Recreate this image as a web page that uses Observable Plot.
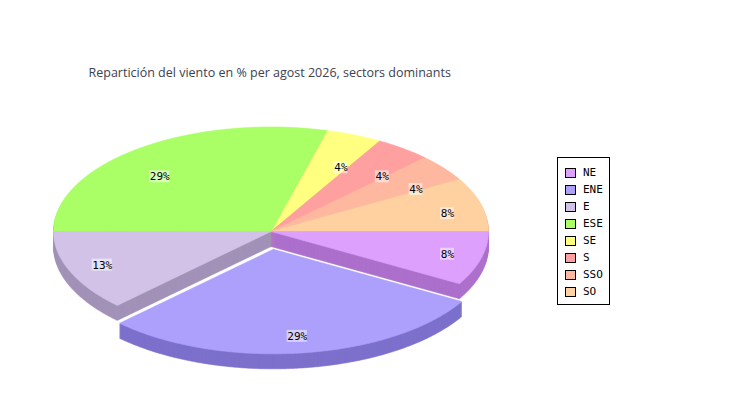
<!DOCTYPE html>
<html><head><meta charset="utf-8">
<script src="https://cdn.jsdelivr.net/npm/d3@7"></script>
<script src="https://cdn.jsdelivr.net/npm/@observablehq/plot@0.6"></script>
<style>
body{margin:0;background:#fff;}
#wrap{position:relative;width:750px;height:400px;overflow:hidden;background:#fff;}
#legend{position:absolute;left:557px;top:157px;width:53px;height:148px;border:1px solid #000;background:#fff;box-sizing:border-box;}
.sw{position:absolute;left:7px;width:11px;height:10px;border:1px solid #000;box-sizing:border-box;}
.lb{position:absolute;left:25px;font:11px "DejaVu Sans Mono",monospace;color:#000;line-height:10px;white-space:nowrap;}
</style></head>
<body><div id="wrap"><div id="chart"></div><div id="legend"></div></div>
<script>
// ---- data ----
const sectors = ["NE", "ENE", "E", "ESE", "SE", "S", "SSO", "SO"];
const percents = [8.33, 29.17, 12.5, 29.17, 4.17, 4.17, 4.17, 8.33];
const colors = ["#dda0fc", "#aca0fc", "#d2c2e8", "#aaff66", "#ffff80", "#ffa0a0", "#ffb8a0", "#ffd0a0"];
const explodedSectors = ["ENE"];
const titleText = "Repartición del viento en % per agost 2026, sectors dominants";

// ---- geometry (layout) ----
const cx = 270.5, cy = 231, rx = 217.5, ry = 104.5, depth = 15, explodePx = 18;

const total = d3.sum(percents);
let acc = 0;
const slices = sectors.map((name, i) => {
  const a0 = acc / total * 2 * Math.PI;
  acc += percents[i];
  const a1 = acc / total * 2 * Math.PI;
  const mid = (a0 + a1) / 2;
  const ex = explodedSectors.includes(name) ? explodePx : 0;
  const side = d3.rgb(colors[i]);
  const sideColor = d3.rgb(Math.max(0, side.r - 48), Math.max(0, side.g - 48), Math.max(0, side.b - 48)).formatHex();
  return {name, value: percents[i], a0, a1, mid, ox: ex * Math.cos(mid) / rx, oy: ex * Math.sin(mid) / ry,
    exploded: ex > 0, color: colors[i], sideColor};
});

function polygon(s, dyPx, key, color, rows) {
  const dy = dyPx / ry;
  const n = Math.max(2, Math.ceil((s.a1 - s.a0) / (Math.PI / 360)));
  rows.push({x: s.ox, y: s.oy + dy, z: key, c: color});
  for (let j = 0; j <= n; j++) {
    const t = s.a0 + (s.a1 - s.a0) * j / n;
    rows.push({x: s.ox + Math.cos(t), y: s.oy + Math.sin(t) + dy, z: key, c: color});
  }
  rows.push({x: s.ox, y: s.oy + dy, z: key, c: color});
}

const back = slices.filter(s => !s.exploded).sort((a, b) => Math.sin(a.mid) - Math.sin(b.mid));
const front = slices.filter(s => s.exploded);

const sideRows = [], topRows = [], frontSideRows = [], frontTopRows = [];
for (const s of back) for (let k = depth; k >= 1; k--) polygon(s, k, s.name + "-side-" + k, s.sideColor, sideRows);
for (const s of back) polygon(s, 0, s.name + "-top", s.color, topRows);
for (const s of front) for (let k = depth; k >= 1; k--) polygon(s, k, s.name + "-side-" + k, s.sideColor, frontSideRows);
for (const s of front) polygon(s, 0, s.name + "-top", s.color, frontTopRows);

const labelRows = slices.map(s => {
  const sn = Math.sin(s.mid);
  const k = sn > 0 ? 0.84 : 0.66;
  const text = Math.round(s.value) + "%";
  const x = s.ox + 0.84 * Math.cos(s.mid);
  const y = s.oy + k * sn;
  const w = (6.4 * text.length + 1) / rx, h = 12 / ry;
  return {x, y, text, x1: x - w / 2, x2: x + w / 2, y1: y - h / 2, y2: y + h / 2};
});

const lineOpts = {x: "x", y: "y", z: "z", fill: "c", stroke: "c", strokeWidth: 0.6, curve: "linear"};

const chart = Plot.plot({
  width: 750, height: 400, margin: 0,
  style: {background: "white", overflow: "visible"},
  x: {domain: [-1, 1], range: [cx - rx, cx + rx], axis: null},
  y: {domain: [-1, 1], range: [cy - ry, cy + ry], axis: null},
  marks: [
    Plot.line(sideRows, lineOpts),
    Plot.line(topRows, lineOpts),
    Plot.line(frontSideRows, lineOpts),
    Plot.line(frontTopRows, lineOpts),
    Plot.rect(labelRows, {x1: "x1", x2: "x2", y1: "y1", y2: "y2", fill: "white", fillOpacity: 0.5}),
    Plot.text(labelRows, {x: "x", y: "y", text: "text", fill: "black", fontFamily: "DejaVu Sans Mono", fontSize: 11}),
    Plot.text([titleText], {frameAnchor: "top-left", dx: 88, dy: 76, lineAnchor: "bottom", textAnchor: "start",
      fill: "#3b4252", fontFamily: "Open Sans", fontSize: 12.5})
  ]
});
document.getElementById("chart").appendChild(chart);

// ---- legend ----
const legend = d3.select("#legend");
sectors.forEach((name, i) => {
  legend.append("div").attr("class", "sw").style("top", (10 + 17 * i) + "px").style("background", colors[i]);
  legend.append("div").attr("class", "lb").style("top", (10 + 17 * i) + "px").text(name);
});
</script>
</body></html>
